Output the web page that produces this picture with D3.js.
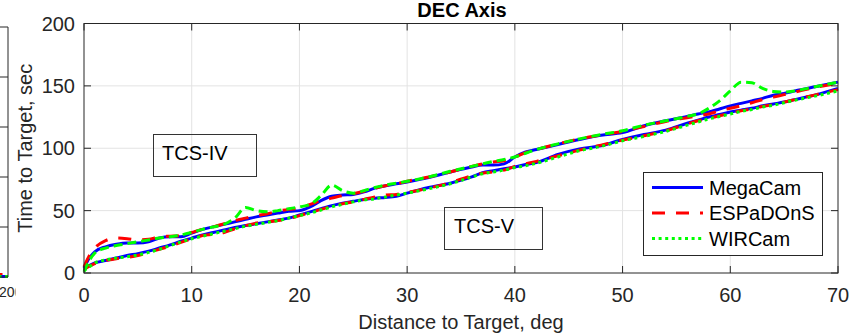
<!DOCTYPE html>
<html>
<head>
<meta charset="utf-8">
<script src="https://cdn.jsdelivr.net/npm/d3@7/dist/d3.min.js"></script>
<style>
html,body{margin:0;padding:0;background:#fff;}
svg{display:block;font-family:"Liberation Sans",Arial,Helvetica,sans-serif;}
</style>
</head>
<body>
<svg id="chart" width="862" height="335"></svg>
<script>
// ---- data ----
const distance = [0,0.5,1,2,3,4,5,6,7,8,9,10,11,12,13,14,15,16,17,18,19,20,21,22,23,24,25,26,27,28,29,30,32,34,36,37,38,39,40,41,42,44,46,48,50,52,54,56,57,58,59,60,61,62,63,64,65,66,68,70];

// TCS-IV (upper band)
const megacamIV  = [4,12,17,21,23,24,24,25,28,29,29,32,35,37,39,41,43,45,46.5,48,49.5,50,53,58,61.5,62.5,63,65,68,70,71.5,73,76.5,81,85,86.5,86.5,87.5,93,97,99,103,107,110.5,112.5,118,122,125.5,127.5,129,131.5,134,136,138,140,142.5,144,146,149.5,153];
const espadonsIV = [5,14,20,26,28,27.5,26.5,27,29,29.5,30,32.5,35,37,39.5,42,44,46,47.5,49.5,51,52,55,58,60,62,63.5,65.5,68,70,71.5,73.5,77,81,85.5,87.5,89,90,93,96.5,99,103.5,107.5,110.5,113.5,117.5,121.5,124.5,126,127.5,130,132,134,136.5,139,141,143,145,149,152];
const wircamIV   = [1,10,16,20,22,23.5,25,26.5,28,29,30.5,32.5,35,37,39,44,52.5,50,49,50,51.5,53,55,62,70.5,66,64,66,68.5,70.5,72,73.5,77,81.5,85.5,87.5,89.5,91,93,96,99,103.5,107.5,111,114,118.5,122,125.5,127.5,132,138,146,153,152.5,148,145.5,145,146,149.5,153];

// TCS-V (lower band)
const megacamV  = [4,6,8,10,12,14,15.5,17.5,20,22.5,25.5,28,30.5,32.5,34.5,36.5,38,39.5,41,42.5,44,46.5,49,51.5,54,56,57.5,59,60,60.5,61.5,64,68.5,72,77,80.5,82,83.5,85,87,88.5,95,99.5,102,107,111,114.5,120,122.5,125,127,129,130.5,132,134,135.5,137,139,143,148];
const espadonsV = [3,5.5,7.5,10,11.5,12.5,14,16.5,19,21.5,24.5,27.5,30,31,32.5,35.5,38,40,41,42,43.5,46,48.5,51,53.5,55.5,57,59,61,62.5,63,64.5,68,72.5,78,80,81,82.5,85.5,87.5,89.5,94,98.5,102.5,106.5,110,114,119.5,122,124,126,128,130,131.5,133.5,135,137,139,143,147];
const wircamV   = [2,5,8,10.5,12,13,14.5,16.5,19,22,25,27.5,29.5,31.5,33.5,35.5,37.5,39,40.5,42,44,46,48,50.5,53,55,57,58.5,59.5,61,62.5,64,67.5,71.5,77,79.5,81,82.5,84.5,86,88,93,98,101.5,106,109.5,113.5,118.5,121,123.5,125.5,127.5,129.5,131,133,134.5,136.5,138.5,142,146];

const xTicks = [0,10,20,30,40,50,60,70];
const yTicks = [0,50,100,150,200];
const legendLabels = ["MegaCam","ESPaDOnS","WIRCam"];
const bandLabels = ["TCS-IV","TCS-V"];
const titleText = "DEC Axis";
const xLabelText = "Distance to Target, deg";
const yLabelText = "Time to Target, sec";

// left (cut-off) neighbour panel fragment
const leftDistance = [188,200];
const leftEspadons = [2.5,2.5];
const leftMegacam  = [0.4,0.4];
const leftWircam   = [0.4,0.4];
const leftTickValues = [0,50,100,150,200,250];
const leftTickLabel = "200";

// ---- drawing ----
const svg = d3.select("#chart");
const axisColor = "#262626";
const gridColor = "#e3e3e3";
const FS = 20;

const L = 84, R = 838, T = 23.5, B = 273;
const x = d3.scaleLinear().domain([0,70]).range([L,R]);
const y = d3.scaleLinear().domain([0,200]).range([B,T]);

// grid
const g = svg.append("g");
g.selectAll(".vg").data(xTicks.slice(1,-1)).enter().append("line")
  .attr("x1",d=>x(d)).attr("x2",d=>x(d)).attr("y1",T).attr("y2",B)
  .attr("stroke",gridColor).attr("stroke-width",1);
g.selectAll(".hg").data(yTicks.slice(1,-1)).enter().append("line")
  .attr("y1",d=>y(d)).attr("y2",d=>y(d)).attr("x1",L).attr("x2",R)
  .attr("stroke",gridColor).attr("stroke-width",1);

// TCS label boxes (transparent)
function bandBox(text, bx, by, bw, bh, tx, ty){
  svg.append("rect").attr("x",bx).attr("y",by).attr("width",bw).attr("height",bh)
    .attr("fill","none").attr("stroke","#333").attr("stroke-width",1);
  svg.append("text").attr("x",tx).attr("y",ty).attr("font-size",FS).attr("fill","#000").text(text);
}
bandBox(bandLabels[0], 153.5, 134.5, 103, 42, 162, 160);
bandBox(bandLabels[1], 444.5, 207.5, 98, 42, 454, 233);

// lines
const line = d3.line().x(d=>x(d[0])).y(d=>y(d[1])).curve(d3.curveMonotoneX);
const zip = vals => distance.map((d,i)=>[d, vals[i]]);
const styles = {
  mc: {color:"#0000ff", dash:null},
  es: {color:"#ff0000", dash:"13,11"},
  wcDot: {color:"#00ff00", dash:"3,3.6"},
  wcDash: {color:"#00ff00", dash:"9,5"}
};
const plotG = svg.append("g");
function drawLine(vals, st){
  plotG.append("path").datum(zip(vals)).attr("d",line)
    .attr("fill","none").attr("stroke",st.color).attr("stroke-width",3)
    .attr("stroke-dasharray",st.dash).attr("stroke-linecap","butt").attr("stroke-linejoin","round");
}
drawLine(megacamV, styles.mc);
drawLine(espadonsV, styles.es);
drawLine(wircamV, styles.wcDot);
drawLine(megacamIV, styles.mc);
drawLine(espadonsIV, styles.es);
drawLine(wircamIV, styles.wcDash);

// axes box
const ax = svg.append("g");
ax.append("rect").attr("x",L).attr("y",T).attr("width",R-L).attr("height",B-T)
  .attr("fill","none").attr("stroke",axisColor).attr("stroke-width",1);
const tl = 7;
xTicks.forEach(t=>{
  ax.append("line").attr("x1",x(t)).attr("x2",x(t)).attr("y1",B).attr("y2",B-tl).attr("stroke",axisColor);
  ax.append("line").attr("x1",x(t)).attr("x2",x(t)).attr("y1",T).attr("y2",T+tl).attr("stroke",axisColor);
  ax.append("text").attr("x",x(t)).attr("y",302).attr("text-anchor","middle")
    .attr("font-size",FS).attr("fill",axisColor).text(t);
});
yTicks.forEach(t=>{
  ax.append("line").attr("x1",L).attr("x2",L+tl).attr("y1",y(t)).attr("y2",y(t)).attr("stroke",axisColor);
  ax.append("line").attr("x1",R).attr("x2",R-tl).attr("y1",y(t)).attr("y2",y(t)).attr("stroke",axisColor);
  ax.append("text").attr("x",75).attr("y",y(t)+7).attr("text-anchor","end")
    .attr("font-size",FS).attr("fill",axisColor).text(t);
});

// labels
svg.append("text").attr("x",(L+R)/2).attr("y",329).attr("text-anchor","middle")
  .attr("font-size",FS).attr("fill",axisColor).text(xLabelText);
svg.append("text").attr("transform",`translate(32,${(T+B)/2}) rotate(-90)`).attr("text-anchor","middle")
  .attr("font-size",FS).attr("fill",axisColor).text(yLabelText);
svg.append("text").attr("x",462).attr("y",16.5).attr("text-anchor","middle")
  .attr("font-size",FS).attr("font-weight","bold").attr("fill","#000").text(titleText);

// legend
const lg = svg.append("g");
lg.append("rect").attr("x",643.5).attr("y",172.5).attr("width",179).attr("height",83)
  .attr("fill","#fff").attr("stroke",axisColor).attr("stroke-width",1);
const legStyles = [styles.mc, styles.es, styles.wcDot];
legendLabels.forEach((lab,i)=>{
  const cy = 187.5 + i*25.5;
  lg.append("line").attr("x1",652).attr("x2",703).attr("y1",cy).attr("y2",cy)
    .attr("stroke",legStyles[i].color).attr("stroke-width",3).attr("stroke-dasharray",legStyles[i].dash);
  lg.append("text").attr("x",709).attr("y",cy+7).attr("font-size",FS).attr("fill","#000").text(lab);
});

// left neighbour panel fragment
svg.append("defs").append("clipPath").attr("id","leftClip")
  .append("rect").attr("x",0).attr("y",0).attr("width",15.5).attr("height",335);
const lp = svg.append("g").attr("clip-path","url(#leftClip)");
const lx = d3.scaleLinear().domain([0,200]).range([-700,8]);
const ly = d3.scaleLinear().domain([0,250]).range([277,27]);
const leftLine = d3.line().x(d=>lx(d[0])).y(d=>ly(d[1]));
[[leftEspadons,styles.es],[leftMegacam,styles.mc],[leftWircam,styles.wcDot]].forEach(([vals,st])=>{
  lp.append("path").datum(leftDistance.map((d,i)=>[d,vals[i]])).attr("d",leftLine)
    .attr("fill","none").attr("stroke",st.color).attr("stroke-width",3).attr("stroke-dasharray",st.dash);
});
lp.append("line").attr("x1",lx(200)).attr("x2",lx(200)).attr("y1",ly(250)).attr("y2",ly(0)).attr("stroke",axisColor);
lp.append("line").attr("x1",0).attr("x2",lx(200)).attr("y1",ly(250)).attr("y2",ly(250)).attr("stroke",axisColor);
lp.append("line").attr("x1",0).attr("x2",lx(200)).attr("y1",ly(0)).attr("y2",ly(0)).attr("stroke",axisColor);
leftTickValues.slice(1,-1).forEach(t=>{
  lp.append("line").attr("x1",0).attr("x2",lx(200)).attr("y1",ly(t)).attr("y2",ly(t)).attr("stroke",axisColor);
});
lp.append("text").attr("x",-1).attr("y",297).attr("font-size",14).attr("fill",axisColor).text(leftTickLabel);
</script>
</body>
</html>
